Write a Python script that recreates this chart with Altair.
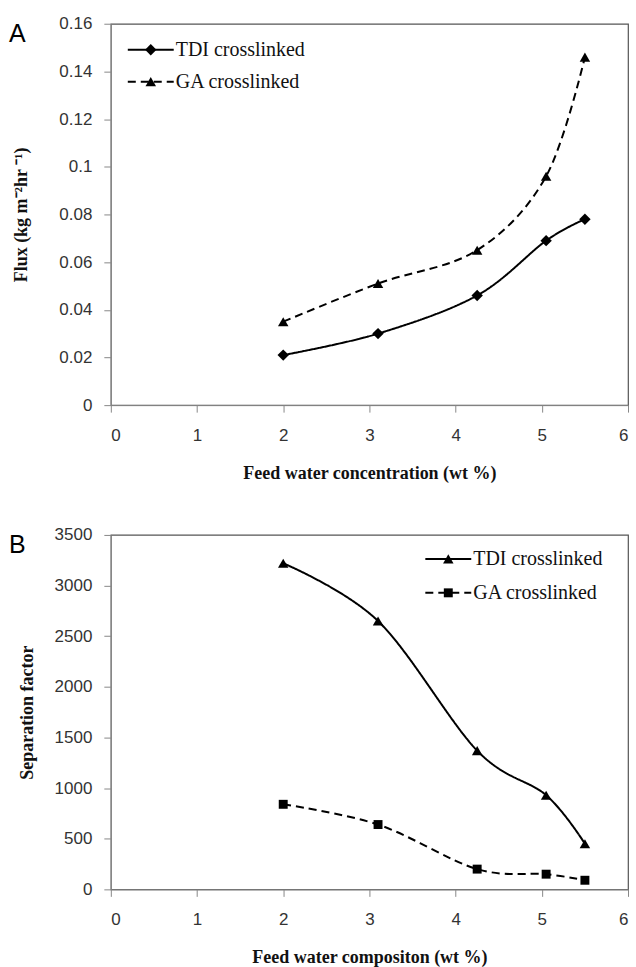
import altair as alt
import pandas as pd

# ---- data ----
x_vals = [2.0, 3.1, 4.25, 5.05, 5.5]
flux_tdi = [0.021, 0.030, 0.046, 0.069, 0.078]
flux_ga = [0.035, 0.051, 0.065, 0.096, 0.146]
sep_tdi = [3220, 2650, 1370, 930, 450]
sep_ga = [840, 640, 200, 150, 90]
x_ticks = [0, 1, 2, 3, 4, 5, 6]
flux_ticks = [0, 0.02, 0.04, 0.06, 0.08, 0.10, 0.12, 0.14, 0.16]
sep_ticks = [0, 500, 1000, 1500, 2000, 2500, 3000, 3500]
series_names = ["TDI crosslinked", "GA crosslinked"]

SERIF = "Liberation Serif"
SANS = "Liberation Sans"
W = 518
H1 = 382
H2 = 355


def panel(ys, ydomain, yticks, yfmt, ytitle, xtitle, shapes, sizes, H, letter,
          leg_x, leg_y, ytp):
    frames = []
    for name, y in zip(series_names, ys):
        frames.append(pd.DataFrame({"x": x_vals, "y": y, "s": name}))
    xs = alt.Scale(domain=[0, 6], nice=False)
    ysc = alt.Scale(domain=ydomain, nice=False)
    xax = alt.Axis(values=x_ticks, title=xtitle, format="d", titlePadding=21,
                   labelPadding=15)
    yax = alt.Axis(values=yticks, title=ytitle, format=yfmt, titlePadding=ytp,
                   labelPadding=12)
    layers = []
    dashes = [[1, 0], [8, 5]]
    for i, df in enumerate(frames):
        base = alt.Chart(df)
        layers.append(base.mark_line(color="black", strokeWidth=2,
                                     strokeDash=dashes[i], interpolate="cardinal")
                      .encode(x=alt.X("x:Q", scale=xs, axis=xax),
                              y=alt.Y("y:Q", scale=ysc, axis=yax)))
        layers.append(base.mark_point(shape=shapes[i], filled=True, color="black",
                                      opacity=1, size=sizes[i])
                      .encode(x=alt.X("x:Q", scale=xs), y=alt.Y("y:Q", scale=ysc)))
    # legend
    for i, name in enumerate(series_names):
        ldf = pd.DataFrame({"t": [name]})
        lb = alt.Chart(ldf)
        yy = leg_y[i]
        layers.append(lb.mark_rule(color="black", strokeWidth=2, strokeDash=dashes[i])
                      .encode(x=alt.value(leg_x), x2=alt.value(leg_x + 46),
                              y=alt.value(yy)))
        layers.append(lb.mark_point(shape=shapes[i], filled=True, color="black",
                                    opacity=1, size=sizes[i])
                      .encode(x=alt.value(leg_x + 23), y=alt.value(yy)))
        layers.append(lb.mark_text(align="left", baseline="middle", font=SERIF,
                                   fontSize=20, color="#111")
                      .encode(text="t:N", x=alt.value(leg_x + 48), y=alt.value(yy)))
    layers.append(alt.Chart(pd.DataFrame({"t": [letter]}))
                  .mark_text(align="left", baseline="middle", font=SANS, fontSize=25,
                             color="black")
                  .encode(text="t:N", x=alt.value(-102), y=alt.value(10)))
    return alt.layer(*layers).properties(width=W, height=H)


top = panel([flux_tdi, flux_ga], [0, 0.16], flux_ticks, "~g",
            "Flux (kg m\u207b\u00b2hr \u207b\u00b9)", "Feed water concentration (wt %)",
            ["diamond", "triangle-up"], [130, 110], H1, "A", 17, [26, 58], 28)
bottom = panel([sep_tdi, sep_ga], [0, 3500], sep_ticks, "d",
               "Separation factor", "Feed water compositon (wt %)",
               ["triangle-up", "square"], [110, 80], H2, "B", 315, [24, 58], 18)

chart = alt.vconcat(top, bottom, spacing=42).properties(
    padding={"left": 8, "top": 13, "right": 6, "bottom": 5}
).configure_view(stroke="#555", strokeWidth=1.2).configure_axis(
    grid=False, domainColor="#888", tickColor="#888", tickSize=7,
    labelFont=SANS, labelFontSize=17, labelColor="#333",
    titleFont=SERIF, titleFontSize=18, titleFontWeight="bold", titleColor="#111"
)

chart.save("out.html", embed_options={"renderer": "svg", "actions": False})
